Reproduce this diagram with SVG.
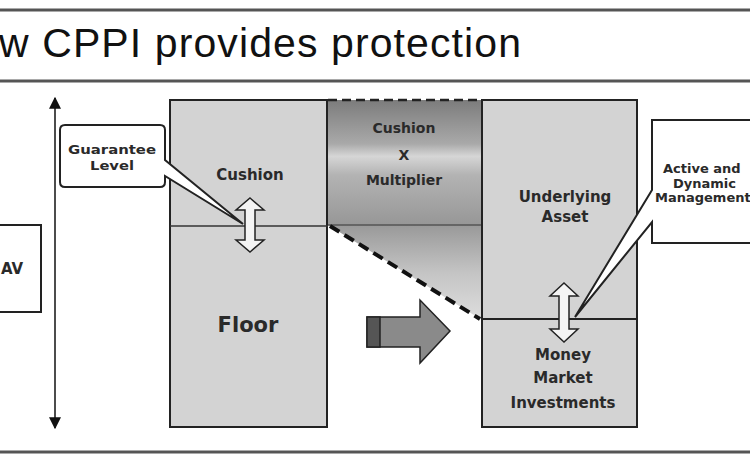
<svg xmlns="http://www.w3.org/2000/svg" width="750" height="463" viewBox="0 0 750 463">
<style>
.lbl{font-family:"DejaVu Sans","Liberation Sans",sans-serif;font-weight:bold;fill:#2a2a2a;text-anchor:middle}
.lft{text-anchor:start}
.col{fill:#d3d3d3;stroke:#222;stroke-width:2}
.box{fill:#fff;stroke:#222;stroke-width:2}
.rule{stroke:#555;stroke-width:3}
.darr{fill:#f4f4f4;stroke:#222;stroke-width:1.5}
</style>
<defs>
<marker id="ah" viewBox="0 0 10 10" refX="9" refY="5" markerWidth="12" markerHeight="12" markerUnits="userSpaceOnUse" orient="auto-start-reverse">
<path d="M0,0 L10,5 L0,10 Z" fill="#111"/>
</marker>
<linearGradient id="gMult" x1="0" y1="0" x2="0" y2="1">
<stop offset="0" stop-color="#7c7c7c"/>
<stop offset="0.35" stop-color="#a9a9a9"/>
<stop offset="0.45" stop-color="#d6d6d6"/>
<stop offset="0.6" stop-color="#b3b3b3"/>
<stop offset="1" stop-color="#979797"/>
</linearGradient>
<linearGradient id="gTri" x1="0" y1="0" x2="0" y2="1">
<stop offset="0" stop-color="#999"/>
<stop offset="0.5" stop-color="#c4c4c4"/>
<stop offset="1" stop-color="#dedede"/>
</linearGradient>
</defs>

<g id="title">
<line class="rule" x1="0" y1="10" x2="750" y2="10"/>
<line class="rule" x1="0" y1="81" x2="750" y2="81"/>
<text x="-1" y="57" font-family="Liberation Sans, Arial, sans-serif" font-size="41" fill="#111" textLength="522" lengthAdjust="spacing">w CPPI provides protection</text>
</g>
<line class="rule" x1="0" y1="452" x2="750" y2="452" stroke="#777"/>

<g id="nav">
<rect class="box" x="-5" y="225" width="46" height="87"/>
<text class="lbl" x="12" y="274" font-size="15">AV</text>
</g>

<g id="connectors">
<line x1="55" y1="98" x2="55" y2="428" stroke="#111" stroke-width="1.5" marker-start="url(#ah)" marker-end="url(#ah)"/>
</g>

<g id="floor-column">
<rect class="col" x="170" y="100" width="157" height="327"/>
<line x1="170" y1="226" x2="328" y2="226" stroke="#333" stroke-width="1.5"/>
<text class="lbl" x="250" y="180" font-size="15">Cushion</text>
<text class="lbl" x="248" y="332" font-size="21">Floor</text>
</g>

<g id="multiplier">
<rect x="328" y="100" width="154" height="125" fill="url(#gMult)"/>
<polygon points="328,225 482,225 482,320" fill="url(#gTri)"/>
<line x1="328" y1="225" x2="482" y2="225" stroke="#555" stroke-width="1.5"/>
<line x1="328" y1="100" x2="482" y2="100" stroke="#222" stroke-width="2.5" stroke-dasharray="9 5"/>
<line x1="330" y1="226" x2="480" y2="319" stroke="#111" stroke-width="4" stroke-dasharray="11 6"/>
<text class="lbl" x="404" y="133" font-size="14">Cushion</text>
<text class="lbl" x="404" y="160" font-size="14">X</text>
<text class="lbl" x="404" y="185" font-size="14">Multiplier</text>
</g>

<g id="shift-arrow">
<path d="M367,317 H420 V300 L450,331 L420,363 V347 H367 Z" fill="#8a8a8a" stroke="#222" stroke-width="1.5"/>
<rect x="367" y="317" width="13" height="30" fill="#555" stroke="#222" stroke-width="1.5"/>
</g>

<g id="asset-column">
<rect class="col" x="482" y="100" width="155" height="327"/>
<line x1="482" y1="319" x2="637" y2="319" stroke="#222" stroke-width="2"/>
<text class="lbl" x="565" y="202" font-size="15">Underlying</text>
<text class="lbl" x="565" y="222" font-size="15">Asset</text>
<text class="lbl" x="563" y="360" font-size="15">Money</text>
<text class="lbl" x="563" y="383" font-size="15">Market</text>
<text class="lbl" x="563" y="408" font-size="15">Investments</text>
</g>

<g id="guarantee-level">
<path class="box" d="M65,125 H160 Q165,125 165,130 V160 L243,224 L165,176 V182 Q165,187 160,187 H65 Q60,187 60,182 V130 Q60,125 65,125 Z"/>
<text class="lbl" x="112" y="154" font-size="12" textLength="88" lengthAdjust="spacingAndGlyphs">Guarantee</text>
<text class="lbl" x="112" y="170" font-size="12" textLength="44" lengthAdjust="spacingAndGlyphs">Level</text>
</g>

<g id="active-management">
<path class="box" d="M652,120 H760 V243 H652 V222 L575,317 L652,190 Z"/>
<text class="lbl lft" x="663" y="173" font-size="13">Active and</text>
<text class="lbl lft" x="673" y="188" font-size="13">Dynamic</text>
<text class="lbl lft" x="655" y="202" font-size="13">Management</text>
</g>

<g id="cushion-arrow">
<path class="darr" d="M250,198 L264,210 L255,210 L255,240 L264,240 L250,252 L236,240 L245,240 L245,210 L236,210 Z"/>
</g>
<g id="asset-arrow">
<path class="darr" d="M564,283 L578,296 L569,296 L569,329 L578,329 L564,342 L550,329 L559,329 L559,296 L550,296 Z"/>
</g>
</svg>
